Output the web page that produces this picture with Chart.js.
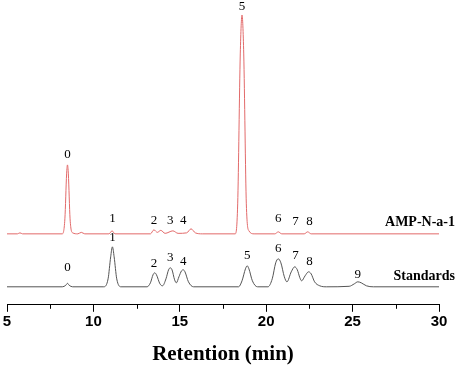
<!DOCTYPE html>
<html>
<head>
<meta charset="utf-8">
<script src="https://cdn.jsdelivr.net/npm/chart.js@4.4.0/dist/chart.umd.min.js"></script>
<style>
  body { margin: 0; background: #fff; }
  #wrap { width: 457px; height: 367px; }
</style>
</head>
<body>
<div id="wrap"><canvas id="chart" width="457" height="367"></canvas></div>
<script>
// Standards trace (time in min, signal)
const stdTime = [5.0, 8.2, 8.4, 8.5, 8.6, 8.8, 10.6, 10.85, 11.0, 11.1, 11.2, 11.35, 11.6,
  13.1, 13.3, 13.45, 13.55, 13.65, 13.85, 14.0, 14.2, 14.35, 14.45, 14.55, 14.7, 14.8, 14.95, 15.1, 15.2, 15.3, 15.5, 15.8,
  18.4, 18.6, 18.8, 18.9, 19.0, 19.2, 19.5, 20.1, 20.35, 20.55, 20.7, 20.85, 21.05, 21.2, 21.45, 21.65, 21.8, 21.95, 22.05,
  22.25, 22.45, 22.6, 22.8, 23.1, 23.5, 24.8, 25.1, 25.3, 25.5, 25.8, 26.2, 30.0];
const stdSignal = [0, 0, 1.5, 3.5, 1.5, 0, 0, 8, 30, 40, 30, 8, 0,
  0, 4, 12, 14, 12, 3, 1, 8, 17, 19, 17, 7, 4, 10, 16, 17, 15, 5, 0,
  0, 6, 18, 21, 18, 6, 0, 0, 8, 24, 28, 24, 10, 5, 15, 20, 17, 9, 6,
  11, 15, 13, 5, 1, 0, 0.5, 3, 5, 4, 1, 0, 0];

// AMP-N-a-1 sample trace
const ampTime = [5.0, 5.6, 5.75, 5.9, 8.2, 8.35, 8.45, 8.5, 8.55, 8.65, 8.8, 9.1, 9.3, 9.5,
  10.9, 11.08, 11.25, 13.3, 13.5, 13.7, 13.9, 14.15, 14.6, 14.9, 15.4, 15.65, 15.9, 16.3,
  18.2, 18.35, 18.5, 18.6, 18.7, 18.85, 19.0, 19.3, 20.5, 20.7, 20.9, 22.2, 22.4, 22.6, 30.0];
const ampSignal = [0, 0, 1, 0, 0, 15, 60, 69, 60, 15, 1, 0, 1.5, 0,
  0, 3, 0, 0, 4, 1.5, 3.5, 0.5, 3, 0.5, 1, 5, 1, 0,
  0, 30, 180, 219, 180, 30, 3, 0, 0, 2, 0, 0, 2, 0, 0];

// peak numbers
const stdPeakLabels = ["0", "1", "2", "3", "4", "5", "6", "7", "8", "9"];
const stdPeakTime = [8.5, 11.1, 13.5, 14.45, 15.2, 18.9, 20.7, 21.7, 22.5, 25.3];
const stdLabelLevel = [19, 49, 23, 29, 25, 31, 38, 31, 25, 12];

const ampPeakLabels = ["0", "1", "2", "3", "4", "5", "6", "7", "8"];
const ampPeakTime = [8.5, 11.1, 13.5, 14.45, 15.2, 18.6, 20.7, 21.7, 22.5];
const ampLabelLevel = [79, 15, 13, 13, 13, 227, 15, 12, 12];

const xMin = 5, xMax = 30;
const majorTicks = [5, 10, 15, 20, 25, 30];
const minorTicks = [7.5, 12.5, 17.5, 22.5, 27.5];

const ampOffset = 53;  // vertical stacking of the sample trace

const stdPoints = stdTime.map((t, i) => ({ x: t, y: stdSignal[i] }));
const ampPoints = ampTime.map((t, i) => ({ x: t, y: ampSignal[i] + ampOffset }));

// 🔹 numbers over peaks, trace names, minor ticks
const annotate = {
  id: "annotate",
  afterDraw(chart) {
    const { ctx, scales: { x, y }, chartArea } = chart;
    ctx.save();
    ctx.fillStyle = "#000";
    ctx.textAlign = "center";
    ctx.textBaseline = "middle";
    ctx.font = "13px 'Liberation Serif'";
    ampPeakLabels.forEach((lab, i) => {
      ctx.fillText(lab, x.getPixelForValue(ampPeakTime[i]), y.getPixelForValue(ampLabelLevel[i] + ampOffset));
    });
    stdPeakLabels.forEach((lab, i) => {
      ctx.fillText(lab, x.getPixelForValue(stdPeakTime[i]), y.getPixelForValue(stdLabelLevel[i]));
    });

    ctx.textAlign = "right";
    ctx.font = "bold 14px 'Liberation Serif'";
    ctx.fillText("AMP-N-a-1", chartArea.right + 16, y.getPixelForValue(11 + ampOffset));
    ctx.fillText("Standards", chartArea.right + 16, y.getPixelForValue(10));

    // minor ticks
    ctx.strokeStyle = "#000";
    ctx.lineWidth = 1;
    minorTicks.forEach(v => {
      const px = Math.round(x.getPixelForValue(v)) + 0.5;
      ctx.beginPath();
      ctx.moveTo(px, chartArea.bottom);
      ctx.lineTo(px, chartArea.bottom + 4);
      ctx.stroke();
    });
    ctx.restore();
  }
};

new Chart(document.getElementById("chart"), {
  type: "line",
  data: {
    datasets: [
      { label: "AMP-N-a-1", data: ampPoints, borderColor: "#e26a6a", borderWidth: 1, pointRadius: 0, cubicInterpolationMode: "monotone" },
      { label: "Standards", data: stdPoints, borderColor: "#555555", borderWidth: 1, pointRadius: 0, cubicInterpolationMode: "monotone" }
    ]
  },
  options: {
    responsive: false,
    animation: false,
    layout: { padding: { left: 7, right: 18, top: 0, bottom: 0 } },
    plugins: { legend: { display: false }, tooltip: { enabled: false } },
    scales: {
      x: {
        type: "linear",
        min: xMin,
        max: xMax,
        afterBuildTicks: (axis) => { axis.ticks = majorTicks.map(v => ({ value: v })); },
        ticks: { color: "#000", padding: 1, font: { family: "'Liberation Sans'", size: 15, weight: "bold" } },
        grid: { drawOnChartArea: false, drawTicks: true, tickLength: 7, color: "#000" },
        border: { display: true, color: "#000" },
        title: {
          display: true,
          text: "Retention (min)",
          color: "#000",
          padding: { top: 10, bottom: 0 },
          font: { family: "'Liberation Serif'", size: 21, weight: "bold" }
        }
      },
      y: { display: false, min: -18, max: 287 }
    }
  },
  plugins: [annotate]
});
</script>
</body>
</html>
